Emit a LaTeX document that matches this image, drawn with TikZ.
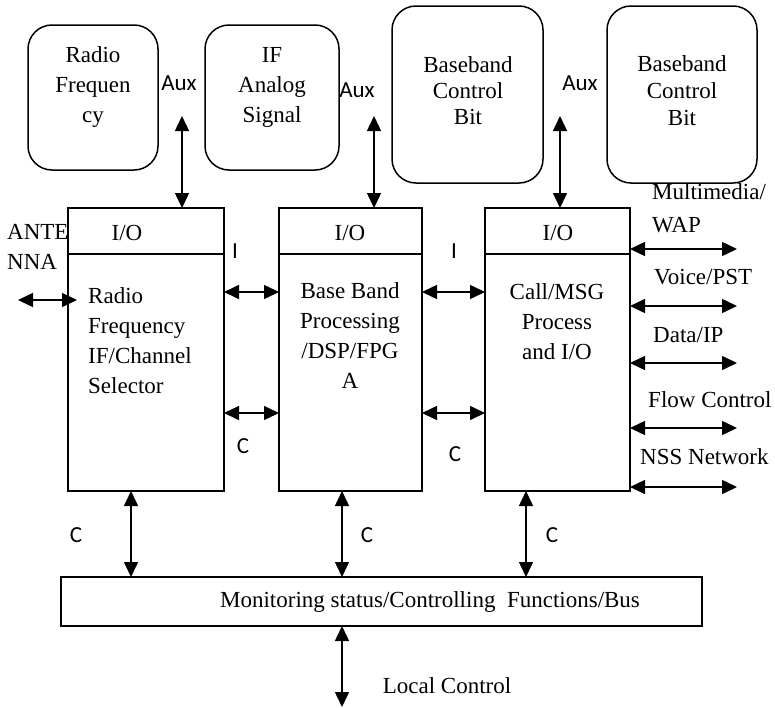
\documentclass[tikz,border=0pt]{standalone}
\usepackage{fontspec}
\setmainfont{Liberation Serif}
\newfontfamily\calfont{Carlito}
\usetikzlibrary{arrows.meta}
\begin{document}
\begin{tikzpicture}[x=1pt,y=-1pt,
  bx/.style={draw, line width=1.5pt, inner sep=0pt, outer sep=0pt},
  rbx/.style={bx, rounded corners=24pt},
  txt/.style={font=\fontsize{23}{30}\selectfont, inner sep=0pt},
  sans/.style={font=\calfont\fontsize{23}{28}\selectfont, inner sep=0pt},
  dbl/.style={line width=1.5pt, {Triangle[length=15pt,width=14pt]}-{Triangle[length=15pt,width=14pt]}}]
\useasboundingbox (0,0) rectangle (775,707);
% top rounded boxes
\node[rbx, minimum width=130pt, minimum height=145pt] (rf) at (93,97.5) {};
\node[rbx, minimum width=134pt, minimum height=145pt] (ifb) at (272,97.5) {};
\node[rbx, minimum width=151pt, minimum height=177pt] (bb1) at (467.5,94.5) {};
\node[rbx, minimum width=150pt, minimum height=177pt] (bb2) at (682,94.5) {};
\node[txt, align=center] (trf) at (93,87) {Radio\\Frequen\\cy};
\node[txt, align=center] (tif) at (272,87) {IF\\Analog\\Signal};
\node[txt, align=center, font=\fontsize{23}{26}\selectfont] (tbb1) at (468,91) {Baseband\\Control\\Bit};
\node[txt, align=center, font=\fontsize{23}{27}\selectfont] (tbb2) at (682,91) {Baseband\\Control\\Bit};
% main blocks
\node[bx, minimum width=156pt, minimum height=283pt] (blk1) at (146,349.5) {};
\node[bx, minimum width=143pt, minimum height=283pt] (blk2) at (350.5,349.5) {};
\node[bx, minimum width=145pt, minimum height=283pt] (blk3) at (557.5,349.5) {};
\foreach \b in {blk1,blk2,blk3}{
  \draw[line width=1.5pt] (\b.west |- 0,254) -- (\b.east |- 0,254);
}
\node[txt] (io1) at (127,233) {I/O};
\node[txt] (io2) at (350,233) {I/O};
\node[txt] (io3) at (558,233) {I/O};
\node[txt, align=left, anchor=west] (t1) at (88,341) {Radio\\Frequency\\IF/Channel\\Selector};
\node[txt, align=center] (t2) at (350,336) {Base Band\\Processing\\/DSP/FPG\\A};
\node[txt, align=center] (t3) at (557,322) {Call/MSG\\Process\\and I/O};
% bus
\node[bx, minimum width=641pt, minimum height=49pt] (bus) at (381.5,601.5) {};
\node[txt] (tbus) at (430,602) {Monitoring status/Controlling\ \ Functions/Bus};
% antenna
\node[txt, align=left, anchor=west] (tant) at (7,247) {ANTE\\NNA};
\coordinate (ant) at (18,300);
\draw[dbl, shorten >=-9pt] (ant) -- (blk1.west |- ant);
% aux arrows
\coordinate (a1) at (182,116);
\coordinate (a2) at (374,116);
\coordinate (a3) at (560,116);
\draw[dbl] (a1) -- (a1 |- blk1.north);
\draw[dbl] (a2) -- (a2 |- blk2.north);
\draw[dbl] (a3) -- (a3 |- blk3.north);
\node[sans] (aux1) at (179,83) {Aux};
\node[sans] (aux2) at (357,90) {Aux};
\node[sans] (aux3) at (580,83) {Aux};
% inter-block arrows
\draw[dbl] (blk1.east |- 0,292) -- (blk2.west |- 0,292);
\draw[dbl] (blk1.east |- 0,413) -- (blk2.west |- 0,413);
\draw[dbl] (blk2.east |- 0,292) -- (blk3.west |- 0,292);
\draw[dbl] (blk2.east |- 0,413) -- (blk3.west |- 0,413);
\node[sans] (i1) at (235,251) {I};
\node[sans] (i2) at (454,251) {I};
\node[sans] (c1) at (243,446) {C};
\node[sans] (c2) at (455,454) {C};
% right side arrows
\coordinate (r1) at (737,249);
\coordinate (r2) at (737,306);
\coordinate (r3) at (737,363);
\coordinate (r4) at (737,428);
\coordinate (r5) at (737,487);
\foreach \r in {r1,r2,r3,r4,r5}{
  \draw[dbl] (blk3.east |- \r) -- (\r);
}
\node[txt, align=left, anchor=west, font=\fontsize{23}{33}\selectfont] (lmm) at (652,208) {Multimedia/\\WAP};
\node[txt, anchor=west] (lvo) at (654,277) {Voice/PST};
\node[txt, anchor=west] (lda) at (653,335) {Data/IP};
\node[txt, anchor=west] (lfl) at (648,400) {Flow Control};
\node[txt, anchor=west] (lns) at (640,457) {NSS Network};
% bottom arrows
\coordinate (b1) at (131,0);
\coordinate (b2) at (342,0);
\coordinate (b3) at (526,0);
\draw[dbl] (b1 |- blk1.south) -- (b1 |- bus.north);
\draw[dbl] (b2 |- blk2.south) -- (b2 |- bus.north);
\draw[dbl] (b3 |- blk3.south) -- (b3 |- bus.north);
\node[sans] (c3) at (76,535) {C};
\node[sans] (c4) at (367,535) {C};
\node[sans] (c5) at (552,535) {C};
\coordinate (lc) at (342,707);
\draw[dbl] (b2 |- bus.south) -- (lc);
\node[txt] (tlc) at (447,686) {Local Control};
\end{tikzpicture}
\end{document}
